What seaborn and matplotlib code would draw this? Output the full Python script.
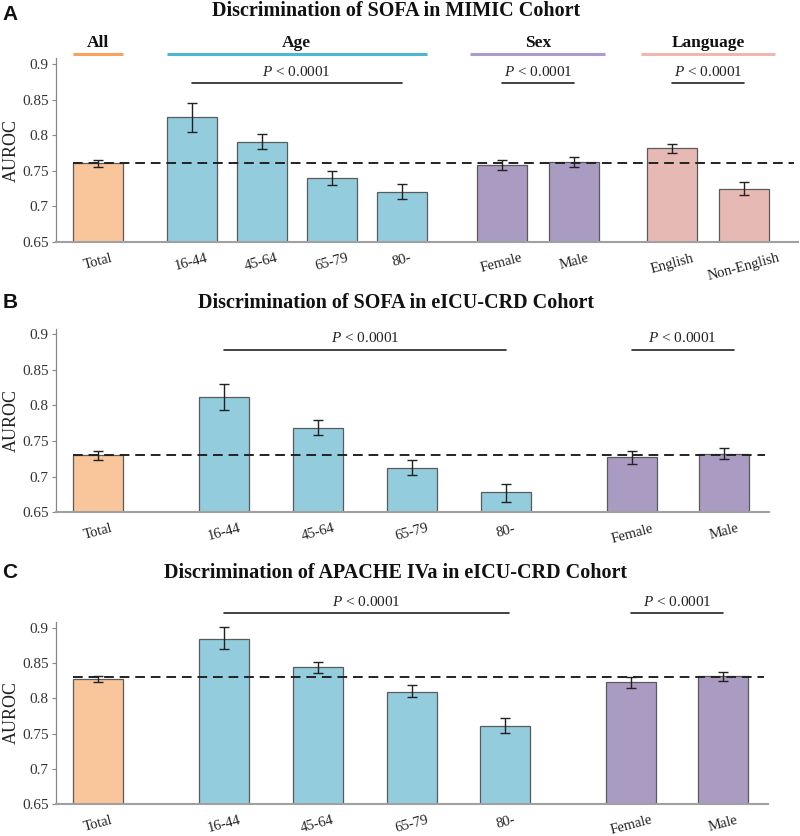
import matplotlib
matplotlib.use("Agg")
import matplotlib.pyplot as plt
import numpy as np
import pandas as pd
import seaborn as sns

# Panel A: SOFA, MIMIC
mimic_labels = ["Total", "16-44", "45-64", "65-79", "80-", "Female", "Male", "English", "Non-English"]
mimic_groups = ["All", "Age", "Age", "Age", "Age", "Sex", "Sex", "Language", "Language"]
mimic_auc = [0.761, 0.826, 0.791, 0.740, 0.720, 0.758, 0.763, 0.782, 0.725]
mimic_lo = [0.755, 0.805, 0.781, 0.730, 0.710, 0.751, 0.756, 0.775, 0.716]
mimic_hi = [0.765, 0.845, 0.802, 0.750, 0.731, 0.766, 0.770, 0.788, 0.734]
mimic_ref = 0.761

# Panel B: SOFA, eICU-CRD
eicu_labels = ["Total", "16-44", "45-64", "65-79", "80-", "Female", "Male"]
eicu_groups = ["All", "Age", "Age", "Age", "Age", "Sex", "Sex"]
sofa_eicu_auc = [0.730, 0.812, 0.768, 0.712, 0.678, 0.727, 0.732]
sofa_eicu_lo = [0.724, 0.793, 0.758, 0.702, 0.665, 0.718, 0.725]
sofa_eicu_hi = [0.736, 0.830, 0.779, 0.723, 0.690, 0.736, 0.740]
sofa_eicu_ref = 0.730

# Panel C: APACHE IVa, eICU-CRD
apache_auc = [0.828, 0.885, 0.844, 0.809, 0.761, 0.823, 0.832]
apache_lo = [0.823, 0.870, 0.836, 0.8015, 0.751, 0.815, 0.825]
apache_hi = [0.8325, 0.902, 0.852, 0.819, 0.772, 0.831, 0.8375]
apache_ref = 0.830

yticks = [0.65, 0.7, 0.75, 0.8, 0.85, 0.9]
ytick_labels = ["0.65", "0.7", "0.75", "0.8", "0.85", "0.9"]
p_text = r"$P$ < 0.0001"

bar_colors = {"All": "#F9C69B", "Age": "#93CDDD", "Sex": "#AA9BC2", "Language": "#E7B9B5"}
head_colors = {"All": "#F6A261", "Age": "#4DB6D2", "Sex": "#AB9CCB", "Language": "#EFB7B4"}

sns.set_theme(style="white")
plt.rcParams["font.family"] = ["Liberation Serif", "DejaVu Serif"]
plt.rcParams["mathtext.fontset"] = "custom"
plt.rcParams["mathtext.rm"] = "Liberation Serif"
plt.rcParams["mathtext.it"] = "Liberation Serif:italic"

W, H = 800, 836
fig = plt.figure(figsize=(8, 8.36), dpi=100)


def px_axes(left, top, right, bottom):
    return fig.add_axes([left / W, 1 - bottom / H, (right - left) / W, (bottom - top) / H])


def draw_panel(ax, labels, groups, auc, lo, hi, ref, pos, bar_w, xlim, ytop, p_spans, p_y):
    auc = np.array(auc)
    df = pd.DataFrame({"x": pos, "auc": auc, "group": groups})
    width = bar_w / np.min(np.diff(sorted(pos)))
    sns.barplot(data=df, x="x", y="auc", hue="group", palette=bar_colors, native_scale=True,
                dodge=False, width=width, edgecolor="#5a5a5a", linewidth=0.9,
                saturation=1, errorbar=None, legend=False, ax=ax)
    ax.errorbar(pos, auc, yerr=[auc - np.array(lo), np.array(hi) - auc], fmt="none",
                ecolor="#222222", elinewidth=1.0, capsize=3.5, capthick=1.0, zorder=5)
    ax.plot([pos[0] - bar_w / 2, xlim[1] - 0.05], [ref, ref], ls=(0, (5, 3)), color="#222222",
            lw=1.4, zorder=6)
    ax.set_xlim(*xlim)
    ax.set_ylim(0.65, ytop)
    ax.set_yticks(yticks)
    ax.set_yticklabels(ytick_labels, fontsize=11, color="#333333")
    ax.set_xticks(pos)
    ax.set_xticklabels(labels, rotation=15, fontsize=10.5, color="#222222")
    ax.tick_params(axis="y", left=True, length=3, width=0.8, color="#888888", pad=2)
    ax.tick_params(axis="x", bottom=False, pad=1)
    ax.set_xlabel("")
    ax.set_ylabel("AUROC", fontsize=13, color="#222222", labelpad=2)
    sns.despine(ax=ax)
    ax.spines["left"].set_color("#888888")
    ax.spines["left"].set_linewidth(0.9)
    ax.spines["bottom"].set_color("#a0a0a0")
    ax.spines["bottom"].set_linewidth(1.5)
    for i0, i1, extra in p_spans:
        x0, x1 = pos[i0], pos[i1] + extra
        ax.plot([x0, x1], [p_y, p_y], color="#222222", lw=1.2, clip_on=False)
        ax.text((x0 + x1) / 2, p_y + 0.006, p_text, ha="center", va="bottom",
                fontsize=11, color="#222222", clip_on=False)


# ---- Panel A
pos_a = [0, 1.34, 2.34, 3.34, 4.34, 5.77, 6.8, 8.2, 9.23]
ax_a = px_axes(55.7, 58, 798, 242)
draw_panel(ax_a, mimic_labels, mimic_groups, mimic_auc, mimic_lo, mimic_hi, mimic_ref,
           pos_a, 0.714, (-0.6, 10.0), 0.909, [(1, 4, 0), (5, 6, 0), (7, 8, 0)], 0.874)
bw = 0.714
heads = [("All", 0, 0, 0.0), ("Age", 1, 4, 0.0), ("Sex", 5, 6, 0.09), ("Language", 7, 8, 0.09)]
for name, i0, i1, ext in heads:
    x0 = pos_a[i0] - bw / 2 - ext
    x1 = pos_a[i1] + bw / 2 + ext
    ax_a.plot([x0, x1], [0.915, 0.915], color=head_colors[name], lw=2.2, clip_on=False,
              solid_capstyle="butt")
    ax_a.text((x0 + x1) / 2, 0.919, name, ha="center", va="bottom", fontsize=12.5,
              fontweight="bold", color="#111111", clip_on=False)

# ---- Panel B
pos_bc = [0, 1.34, 2.34, 3.34, 4.34, 5.68, 6.66]
ax_b = px_axes(55.7, 329.3, 769.3, 512.3)
draw_panel(ax_b, eicu_labels, eicu_groups, sofa_eicu_auc, sofa_eicu_lo, sofa_eicu_hi,
           sofa_eicu_ref, pos_bc, 0.532, (-0.45, 7.14), 0.907,
           [(1, 4, 0), (5, 6, 0.1)], 0.8785)

# ---- Panel C
ax_c = px_axes(55.7, 622, 768.3, 804)
draw_panel(ax_c, eicu_labels, eicu_groups, apache_auc, apache_lo, apache_hi,
           apache_ref, pos_bc, 0.532, (-0.45, 7.14), 0.9085,
           [(1, 4, 0.04), (5, 6, 0)], 0.921)

titles = [("A", "Discrimination of SOFA in MIMIC Cohort", 11, 14),
          ("B", "Discrimination of SOFA in eICU-CRD Cohort", 303, 303),
          ("C", "Discrimination of APACHE IVa in eICU-CRD Cohort", 573, 572)]
for letter, title, ty, ly in titles:
    fig.text(0.495, 1 - ty / H, title, ha="center", va="center", fontsize=14.5,
             fontweight="bold", color="#111111")
    fig.text(0.003, 1 - ly / H, letter, ha="left", va="center", fontsize=15,
             fontweight="bold", family=["Liberation Sans", "DejaVu Sans"], color="#111111")

fig.savefig("out.png", dpi=100)
